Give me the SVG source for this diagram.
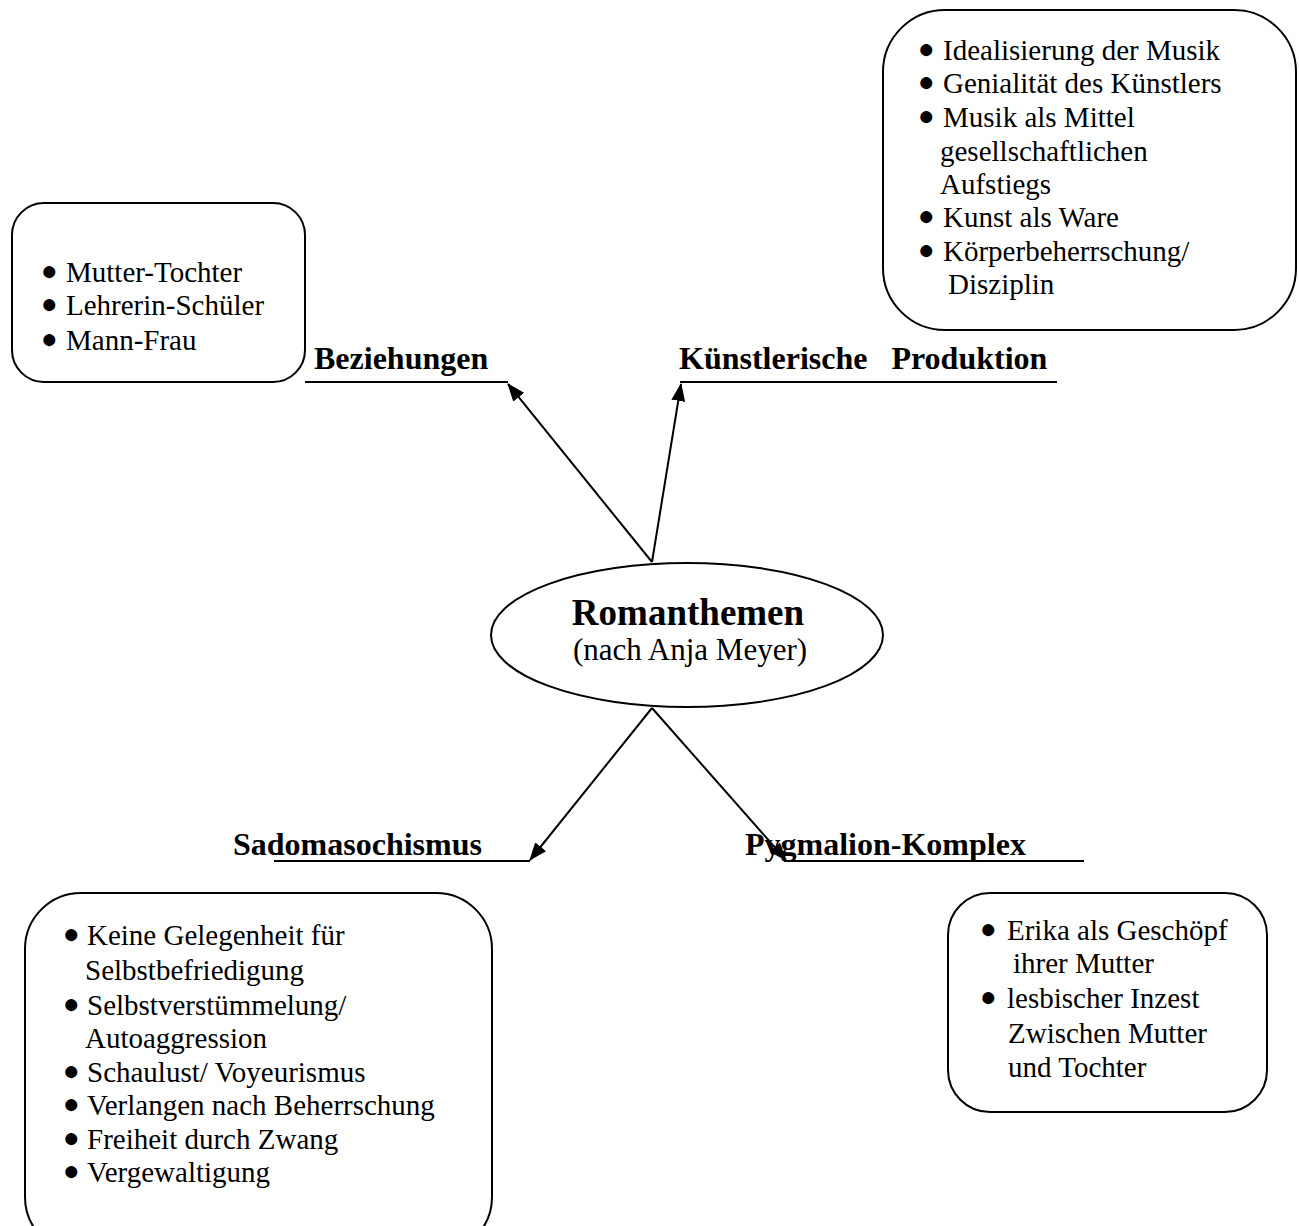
<svg xmlns="http://www.w3.org/2000/svg" width="1299" height="1226" viewBox="0 0 1299 1226">
<style>
.box{fill:#fff;stroke:#000;stroke-width:2}
.t{font-family:"Liberation Serif","Times New Roman",serif;font-size:29px;fill:#000}
.bu{font-family:"Liberation Serif","Times New Roman",serif;font-size:28px;fill:#000}
.b{font-family:"Liberation Serif","Times New Roman",serif;font-size:32px;font-weight:bold;fill:#000}
.ln{stroke:#000;stroke-width:2;fill:none}
</style>
<defs>
<marker id="ah" markerUnits="userSpaceOnUse" markerWidth="18" markerHeight="14" refX="17" refY="7" orient="auto">
<path d="M0,0 L18,7 L0,14 z" fill="#000"/>
</marker>
</defs>
<rect width="1299" height="1226" fill="#fff"/>

<g id="connectors">
<line class="ln" x1="652" y1="562" x2="508" y2="384" marker-end="url(#ah)"/>
<line class="ln" x1="652" y1="562" x2="681" y2="384" marker-end="url(#ah)"/>
<line class="ln" x1="652" y1="708" x2="530" y2="860" marker-end="url(#ah)"/>
<line class="ln" x1="652" y1="708" x2="786" y2="860" marker-end="url(#ah)"/>
</g>

<g id="center">
<ellipse class="box" cx="687" cy="635" rx="196" ry="72"/>
<text x="688" y="625" text-anchor="middle" font-family="Liberation Serif, Times New Roman, serif" font-size="37" font-weight="bold">Romanthemen</text>
<text x="690" y="660" text-anchor="middle" class="t" style="font-size:31px">(nach Anja Meyer)</text>
</g>

<g id="label-beziehungen">
<text class="b" x="314" y="369">Beziehungen</text>
<line class="ln" x1="305" y1="382" x2="508" y2="382"/>
</g>

<g id="label-kuenstlerische">
<text class="b" x="679" y="369" xml:space="preserve">Künstlerische   Produktion</text>
<line class="ln" x1="680" y1="382" x2="1057" y2="382"/>
</g>

<g id="label-sado">
<text class="b" x="233" y="855">Sadomasochismus</text>
<line class="ln" x1="274" y1="861" x2="530" y2="861"/>
</g>

<g id="label-pygmalion">
<text class="b" x="745" y="855">Pygmalion-Komplex</text>
<line class="ln" x1="784" y1="861" x2="1084" y2="861"/>
</g>

<g id="box-beziehungen">
<rect class="box" x="12" y="203" width="293" height="179" rx="32" ry="32"/>
<text class="bu" x="41" y="280">●</text>
<text class="bu" x="41" y="313">●</text>
<text class="bu" x="41" y="348">●</text>
<text class="t" x="66" y="282">Mutter-Tochter</text>
<text class="t" x="66" y="315">Lehrerin-Schüler</text>
<text class="t" x="66" y="350">Mann-Frau</text>
</g>

<g id="box-kuenstlerische">
<rect class="box" x="883" y="10" width="413" height="320" rx="62" ry="62"/>
<text class="bu" x="918" y="58">●</text>
<text class="bu" x="918" y="91">●</text>
<text class="bu" x="918" y="125">●</text>
<text class="bu" x="918" y="225">●</text>
<text class="bu" x="918" y="259">●</text>
<text class="t" x="943" y="60">Idealisierung der Musik</text>
<text class="t" x="943" y="93">Genialität des Künstlers</text>
<text class="t" x="943" y="127">Musik als Mittel</text>
<text class="t" x="940" y="161">gesellschaftlichen</text>
<text class="t" x="940" y="194">Aufstiegs</text>
<text class="t" x="943" y="227">Kunst als Ware</text>
<text class="t" x="943" y="261">Körperbeherrschung/</text>
<text class="t" x="948" y="294">Disziplin</text>
</g>

<g id="box-sado">
<rect class="box" x="25" y="893" width="467" height="360" rx="56" ry="56"/>
<text class="bu" x="63" y="943">●</text>
<text class="bu" x="63" y="1013">●</text>
<text class="bu" x="63" y="1080">●</text>
<text class="bu" x="63" y="1113">●</text>
<text class="bu" x="63" y="1147">●</text>
<text class="bu" x="63" y="1180">●</text>
<text class="t" x="87" y="945">Keine Gelegenheit für</text>
<text class="t" x="85" y="980">Selbstbefriedigung</text>
<text class="t" x="87" y="1015">Selbstverstümmelung/</text>
<text class="t" x="85" y="1048">Autoaggression</text>
<text class="t" x="87" y="1082">Schaulust/ Voyeurismus</text>
<text class="t" x="87" y="1115">Verlangen nach Beherrschung</text>
<text class="t" x="87" y="1149">Freiheit durch Zwang</text>
<text class="t" x="87" y="1182">Vergewaltigung</text>
</g>

<g id="box-pygmalion">
<rect class="box" x="948" y="893" width="319" height="219" rx="42" ry="42"/>
<text class="bu" x="980" y="938">●</text>
<text class="bu" x="980" y="1006">●</text>
<text class="t" x="1007" y="940">Erika als Geschöpf</text>
<text class="t" x="1013" y="973">ihrer Mutter</text>
<text class="t" x="1007" y="1008">lesbischer Inzest</text>
<text class="t" x="1008" y="1043">Zwischen Mutter</text>
<text class="t" x="1008" y="1077">und Tochter</text>
</g>
</svg>
